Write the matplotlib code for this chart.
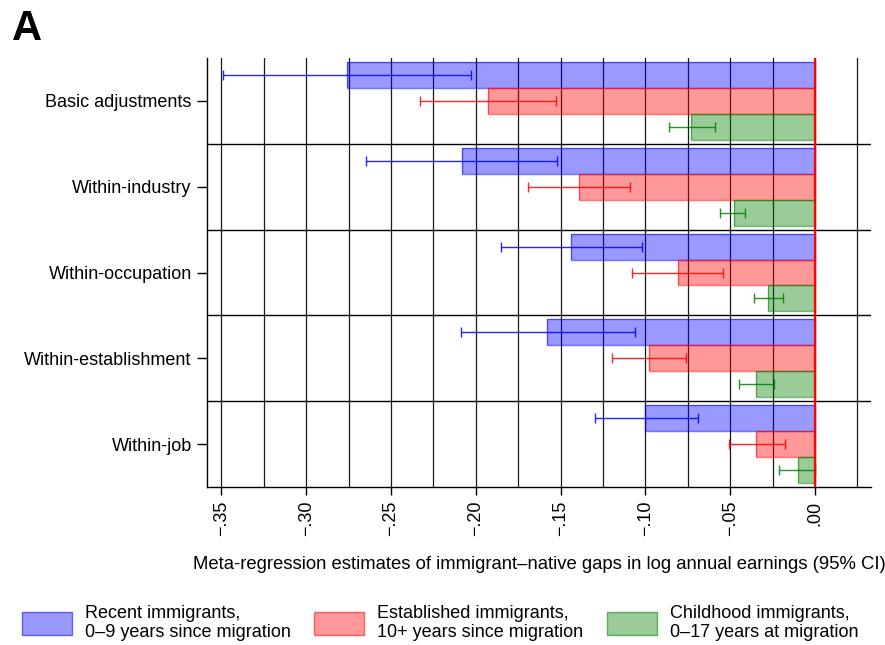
import matplotlib
matplotlib.use("Agg")
import matplotlib.pyplot as plt
from matplotlib.patches import Patch
import numpy as np

plt.rcParams["font.family"] = ["Liberation Sans", "DejaVu Sans"]

# ── Meta-regression estimates (log annual earnings gaps, 95% CI) ──────────
specs = ["Basic adjustments", "Within-industry", "Within-occupation",
         "Within-establishment", "Within-job"]

recent = [-0.276, -0.208, -0.144, -0.158, -0.100]
recent_lo = [-0.349, -0.265, -0.185, -0.209, -0.130]
recent_hi = [-0.203, -0.152, -0.102, -0.106, -0.069]

established = [-0.193, -0.139, -0.081, -0.098, -0.035]
established_lo = [-0.233, -0.169, -0.108, -0.120, -0.051]
established_hi = [-0.153, -0.109, -0.054, -0.076, -0.018]

childhood = [-0.073, -0.048, -0.028, -0.035, -0.010]
childhood_lo = [-0.086, -0.056, -0.036, -0.045, -0.021]
childhood_hi = [-0.059, -0.041, -0.019, -0.024, 0.000]

tick_vals = [-0.35, -0.30, -0.25, -0.20, -0.15, -0.10, -0.05, 0.00]
tick_labels = ["\u2212.35", "\u2212.30", "\u2212.25", "\u2212.20",
               "\u2212.15", "\u2212.10", "\u2212.05", ".00"]

groups = [
    ("Recent immigrants,\n0\u20139 years since migration",
     recent, recent_lo, recent_hi, "blue"),
    ("Established immigrants,\n10+ years since migration",
     established, established_lo, established_hi, "red"),
    ("Childhood immigrants,\n0\u201317 years at migration",
     childhood, childhood_lo, childhood_hi, "green"),
]

# ── Plot ──────────────────────────────────────────────────────────────────
fig = plt.figure(figsize=(8.85, 6.45), dpi=100)
ax = fig.add_axes([207 / 885, 1 - 487 / 645, (871 - 207) / 885, (487 - 58) / 645])

n = len(specs)
centers = np.arange(n) + 0.5
bar_h = 0.302

# vertical grid every .025, horizontal separators between specifications
for xv in np.arange(-0.35, 0.03, 0.025):
    ax.axvline(xv, color="0.1", lw=0.9, zorder=1)
for yv in range(1, n):
    ax.axhline(yv, color="black", lw=1.0, zorder=1)

handles = []
for k, (label, est, lo, hi, col) in enumerate(groups):
    y = centers + (k - 1) * bar_h
    ax.barh(y, est, height=bar_h, color=col, alpha=0.4, zorder=2)
    ax.barh(y, est, height=bar_h, color="none", edgecolor=col, lw=1.0,
            alpha=0.55, zorder=2)
    est_a = np.array(est)
    err = [est_a - np.array(lo), np.array(hi) - est_a]
    ax.errorbar(est, y, xerr=err, fmt="none", ecolor=col, elinewidth=1.0,
                capsize=3.6, capthick=1.0, alpha=0.85, zorder=3)
    rgb = matplotlib.colors.to_rgb(col)
    handles.append(Patch(facecolor=(*rgb, 0.4), edgecolor=(*rgb, 0.55),
                         label=label))

ax.axvline(0, color="red", lw=1.6, zorder=4)

ax.set_xlim(-0.3585, 0.033)
ax.set_ylim(n, 0)
ax.set_yticks(centers)
ax.set_yticklabels(specs, fontsize=13)
ax.set_xticks(tick_vals)
ax.set_xticklabels(tick_labels, fontsize=13, rotation=90)
ax.tick_params(axis="x", length=6, width=1, pad=4)
ax.tick_params(axis="y", length=7, width=1, pad=4)
for side in ["top", "right"]:
    ax.spines[side].set_visible(False)
ax.spines["left"].set_linewidth(1)
ax.spines["bottom"].set_linewidth(1)

ax.set_xlabel("Meta-regression estimates of immigrant\u2013native gaps in "
              "log annual earnings (95% CI)", fontsize=13.3, labelpad=14)

fig.legend(handles=handles, loc="lower left", bbox_to_anchor=(22 / 885, 0.006),
           ncol=3, frameon=False, fontsize=13, handlelength=2.77,
           handleheight=1.55, handletextpad=0.72, columnspacing=1.3,
           borderpad=0, borderaxespad=0, labelspacing=0)

fig.text(12 / 885, 1 - 40 / 645, "A", fontsize=30, fontweight="bold",
         ha="left", va="baseline")

plt.savefig("out.png", dpi=100)
